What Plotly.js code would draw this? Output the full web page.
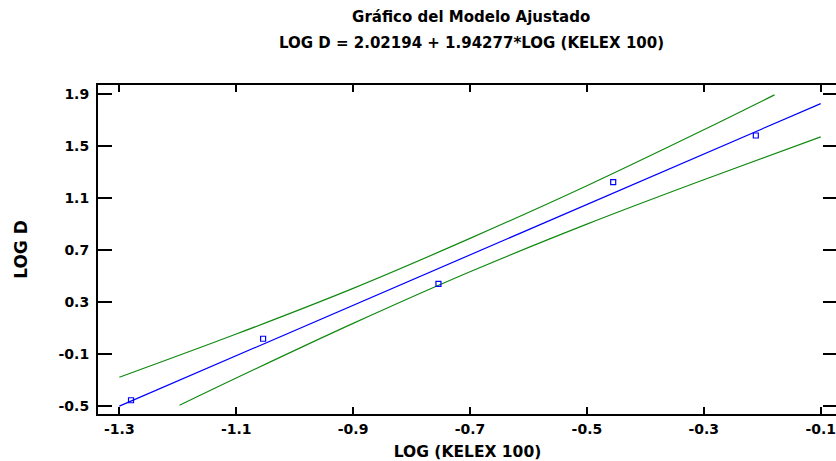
<!DOCTYPE html>
<html>
<head>
<meta charset="utf-8">
<script src="https://cdn.plot.ly/plotly-3.0.1.min.js"></script>
<style>
  html, body { margin: 0; padding: 0; overflow: hidden; background: #fff; }
  #chart { width: 839px; height: 461px; }
</style>
</head>
<body>
<div id="chart"></div>
<script>
// Observed points: LOG (KELEX 100) vs LOG D
const xObs = [-1.28, -1.054, -0.754, -0.455, -0.211];
const yObs = [-0.458, 0.016, 0.439, 1.223, 1.582];

// Fitted model: LOG D = intercept + slope * LOG (KELEX 100)
const intercept = 2.02194;
const slope = 1.94277;
const fitX = [-1.3, -0.1];

// Upper and lower limit curves around the fitted line
const upperX = [-1.3, -1.1, -0.9, -0.7, -0.5, -0.3, -0.179];
const upperY = [-0.281, 0.052, 0.404, 0.789, 1.195, 1.626, 1.895];
const lowerX = [-1.197, -1.1, -0.9, -0.7, -0.5, -0.3, -0.1];
const lowerY = [-0.497, -0.287, 0.134, 0.532, 0.899, 1.241, 1.571];

// Axis ticks
const xTicks = [-1.3, -1.1, -0.9, -0.7, -0.5, -0.3, -0.1];
const yTicks = [-0.5, -0.1, 0.3, 0.7, 1.1, 1.5, 1.9];

const titleLine1 = 'Gráfico del Modelo Ajustado';
const titleLine2 = 'LOG D = 2.02194 + 1.94277*LOG (KELEX 100)';

const fitY = fitX.map(x => intercept + slope * x);

const FONT = 'DejaVu Sans, Liberation Sans, Arial, sans-serif';
const BLUE = '#0000ff';
const GREEN = '#108a10';

const traces = [
  { x: upperX, y: upperY, type: 'scatter', mode: 'lines',
    line: { color: GREEN, width: 1.2, shape: 'spline' }, hoverinfo: 'skip' },
  { x: lowerX, y: lowerY, type: 'scatter', mode: 'lines',
    line: { color: GREEN, width: 1.2, shape: 'spline' }, hoverinfo: 'skip' },
  { x: fitX, y: fitY, type: 'scatter', mode: 'lines',
    line: { color: BLUE, width: 1.2 } },
  { x: xObs, y: yObs, type: 'scatter', mode: 'markers',
    marker: { symbol: 'square-open', size: 5, color: BLUE, line: { width: 1.2, color: BLUE } } }
];

const axisCommon = {
  showgrid: false, zeroline: false, showline: true, linecolor: '#000', linewidth: 2,
  mirror: 'ticks', ticks: 'inside', tickcolor: '#000', tickwidth: 2,
  tickfont: { family: FONT, size: 14, color: '#000', weight: 'bold' },
  fixedrange: true
};

const layout = {
  width: 839, height: 461,
  margin: { l: 98, r: 2, t: 85, b: 47 },
  paper_bgcolor: '#fff', plot_bgcolor: '#fff',
  showlegend: false,
  font: { family: FONT, color: '#000' },
  title: {
    text: titleLine1,
    font: { family: FONT, size: 15, color: '#000', weight: 'bold' },
    xref: 'paper', x: 0.505, xanchor: 'center',
    yref: 'container', y: 1 - 17 / 461, yanchor: 'middle'
  },
  annotations: [{
    text: titleLine2, showarrow: false,
    font: { family: FONT, size: 15, color: '#000', weight: 'bold' },
    xref: 'paper', x: 0.505, xanchor: 'center',
    yref: 'paper', y: (414 - 43) / 329, yanchor: 'middle'
  }],
  xaxis: Object.assign({}, axisCommon, {
    range: [-1.3365, -0.0721],
    tickvals: xTicks, ticktext: xTicks.map(v => v.toFixed(1)),
    ticklen: 7,
    ticklabelstandoff: 1,
    title: { text: 'LOG (KELEX 100)', font: { family: FONT, size: 15.5, color: '#000', weight: 'bold' }, standoff: 11 }
  }),
  yaxis: Object.assign({}, axisCommon, {
    range: [-0.564, 1.971],
    tickvals: yTicks, ticktext: yTicks.map(v => v.toFixed(1)),
    ticklen: 14,
    ticklabelstandoff: 4,
    title: { text: 'LOG D', font: { family: FONT, size: 17, color: '#000', weight: 'bold' }, standoff: 27 }
  })
};

Plotly.newPlot('chart', traces, layout, { displayModeBar: false, staticPlot: true });
</script>
</body>
</html>
